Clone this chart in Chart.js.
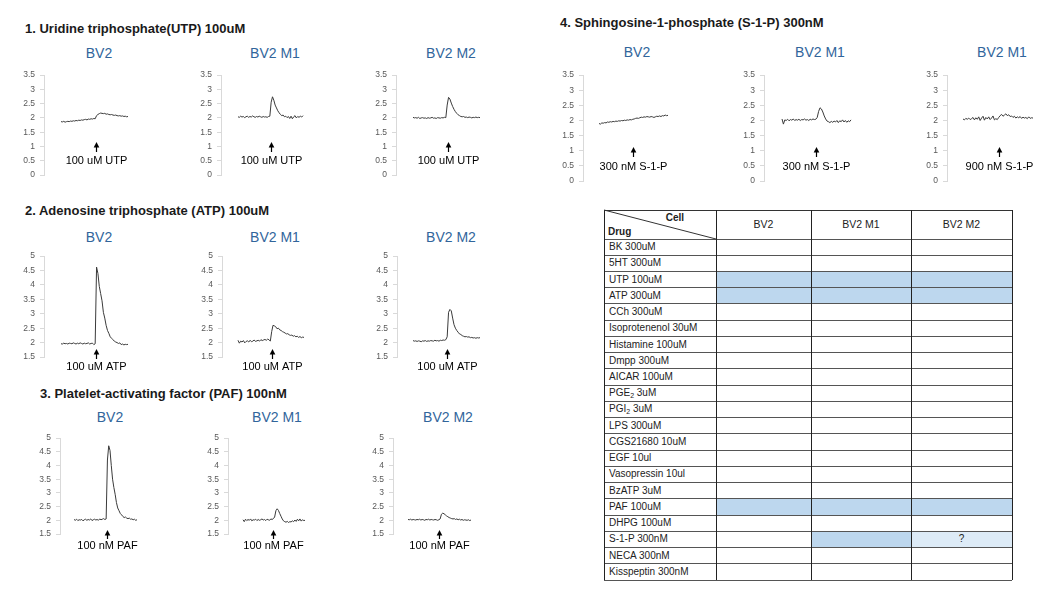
<!DOCTYPE html>
<html><head><meta charset="utf-8">
<script src="https://cdn.jsdelivr.net/npm/chart.js@4.4.1/dist/chart.umd.min.js"></script>
<style>
body{margin:0;width:1052px;height:590px;background:#fff;position:relative;overflow:hidden;font-family:"Liberation Sans",Arial,sans-serif;}
.sec{position:absolute;font-weight:bold;font-size:13px;color:#1a1a1a;white-space:nowrap;line-height:1;transform:translateY(-50%);}
.ttl{position:absolute;font-size:14px;color:#31659b;white-space:nowrap;line-height:1;transform:translate(-50%,-50%);}
canvas{position:absolute;}
.cell{position:absolute;box-sizing:border-box;font-size:10px;color:#222;line-height:1;display:flex;align-items:center;white-space:nowrap;}
.cell sub{font-size:7px;vertical-align:-2px;line-height:0;}
.ln{position:absolute;background:#333;}
</style>
</head><body>
<script>
// ---------- DATA ----------
const sectionTitles = ['1. Uridine triphosphate(UTP) 100uM','2. Adenosine triphosphate (ATP) 100uM','3. Platelet-activating factor (PAF) 100nM','4. Sphingosine-1-phosphate (S-1-P) 300nM'];
const panelTitles = [['BV2','BV2 M1','BV2 M2'],['BV2','BV2 M1','BV2 M2'],['BV2','BV2 M1','BV2 M2'],['BV2','BV2 M1','BV2 M1']];
const injectionLabels = [['100 uM UTP','100 uM UTP','100 uM UTP'],['100 uM ATP','100 uM ATP','100 uM ATP'],['100 nM PAF','100 nM PAF','100 nM PAF'],['300 nM S-1-P','300 nM S-1-P','900 nM S-1-P']];

const UTP_BV2 = [1.87,1.86,1.88,1.85,1.87,1.88,1.87,1.89,1.88,1.90, 1.89,1.91,1.90,1.92,1.91,1.93,1.92,1.94,1.95,1.93, 1.96,1.95,1.97,1.96,1.98,1.97,2.08,2.12,2.15,2.17, 2.16,2.15,2.16,2.13,2.14,2.12,2.11,2.12,2.10,2.09, 2.10,2.08,2.07,2.08,2.06,2.07,2.05,2.06,2.04,2.05];
const UTP_M1  = [2.04,2.02,2.06,2.03,2.05,2.01,2.04,2.06,2.02,2.05, 2.03,2.07,2.04,2.02,2.05,2.03,2.06,2.04,2.02,2.05, 2.03,2.04,2.02,2.05,2.06,2.55,2.74,2.62,2.45,2.35, 2.25,2.18,2.12,2.08,2.10,2.04,2.06,2.01,2.05,1.98, 2.06,1.97,2.04,2.08,2.00,2.05,2.02,2.06,2.03,2.08];
const UTP_M2  = [2.02,2.00,2.01,1.99,2.02,1.98,2.00,2.01,1.99,2.00, 1.98,2.01,1.99,2.00,2.02,1.99,2.00,1.98,2.01,2.00, 1.99,2.01,2.00,2.02,2.01,2.45,2.72,2.66,2.52,2.40, 2.30,2.22,2.16,2.11,2.08,2.05,2.04,2.05,2.02,2.03, 2.01,2.03,2.02,2.00,2.02,2.01,2.03,2.01,2.02,2.01];
const ATP_BV2 = [1.96,1.95,1.98,1.96,1.97,1.95,1.98,1.97,1.96,1.99, 1.97,1.95,1.98,1.96,1.99,1.97,1.95,1.98,1.96,1.97, 1.99,1.95,1.97,1.98,1.93,1.96,4.62,4.40,3.95,3.70, 3.45,3.05,2.85,2.60,2.42,2.32,2.20,2.15,2.10,2.05, 2.02,2.00,1.97,1.99,1.93,1.95,1.92,1.94,1.93,1.94];
const ATP_M1  = [2.08,1.98,2.05,2.02,2.07,1.99,2.04,2.06,2.02,2.08, 2.03,2.05,2.09,2.04,2.06,2.08,2.05,2.10,2.07,2.09, 2.11,2.08,2.12,2.10,2.05,2.38,2.60,2.58,2.55,2.48, 2.50,2.44,2.42,2.38,2.36,2.33,2.30,2.31,2.27,2.25, 2.26,2.22,2.24,2.20,2.22,2.18,2.21,2.17,2.19,2.18];
const ATP_M2  = [2.07,2.05,2.06,2.04,2.06,2.05,2.03,2.06,2.05,2.07, 2.04,2.06,2.05,2.07,2.06,2.05,2.08,2.06,2.07,2.05, 2.08,2.07,2.09,2.08,2.10,2.20,3.05,3.15,3.10,2.85, 2.62,2.50,2.42,2.36,2.30,2.28,2.24,2.22,2.20,2.21, 2.19,2.20,2.17,2.18,2.16,2.17,2.15,2.17,2.16,2.17];
const PAF_BV2 = [2.03,2.00,2.04,1.99,2.02,2.01,2.03,1.98,2.02,2.04, 2.00,2.03,2.01,2.05,1.99,2.02,2.04,2.01,2.03,2.00, 2.05,2.02,2.04,2.06,2.03,2.05,4.20,4.72,4.55,4.00, 3.50,3.20,2.95,2.65,2.45,2.35,2.25,2.20,2.14,2.10, 2.12,2.08,2.06,2.08,2.04,2.05,2.02,2.04,2.00,2.02];
const PAF_M1  = [2.02,1.95,2.04,1.99,2.03,2.00,2.05,1.98,2.02,2.01, 2.04,1.99,2.03,2.00,2.02,2.05,2.01,2.03,1.99,2.04, 2.02,2.00,2.05,2.03,2.06,2.12,2.35,2.42,2.36,2.25, 2.15,2.05,1.98,1.95,1.93,1.96,1.92,1.95,1.94,1.98, 1.95,2.01,1.96,2.04,1.98,2.05,1.97,2.02,1.99,2.00];
const PAF_M2  = [2.03,2.02,2.04,2.01,2.03,2.02,2.01,2.03,2.02,2.04, 2.01,2.03,2.02,2.00,2.03,2.02,2.04,2.01,2.03,2.02, 2.01,2.03,2.02,2.00,2.02,2.05,2.22,2.26,2.24,2.20, 2.16,2.13,2.10,2.08,2.06,2.05,2.06,2.03,2.05,2.02, 2.04,2.01,2.03,2.00,2.02,2.01,2.00,2.02,1.99,2.01];
const S1P_BV2 = [1.90,1.88,1.92,1.91,1.93,1.92,1.95,1.94,1.96,1.95, 1.97,1.96,1.98,1.97,1.99,1.98,2.00,1.99,2.01,2.00, 2.02,2.01,2.03,2.02,2.04,2.05,2.07,2.08,2.07,2.09, 2.11,2.10,2.12,2.11,2.13,2.12,2.11,2.13,2.12,2.10, 2.12,2.14,2.13,2.15,2.13,2.16,2.15,2.18,2.16,2.17];
const S1P_M1  = [2.05,1.88,2.02,2.00,2.04,1.99,2.03,2.01,2.05,2.00, 2.03,2.01,2.04,2.00,2.03,2.02,2.05,2.01,2.03,2.00, 2.04,2.02,2.05,2.03,2.04,2.10,2.30,2.42,2.38,2.28, 2.15,2.05,1.98,1.96,1.93,1.97,1.94,1.98,1.95,2.00, 1.93,1.99,1.96,2.02,1.95,2.00,1.94,1.99,1.96,2.02];
const S1P_M1_900 = [2.05,2.02,2.07,2.04,2.08,2.03,2.06,2.10,2.02,2.09, 2.04,2.12,2.00,2.08,2.14,2.01,2.10,2.05,2.12,2.03, 2.08,2.15,2.02,2.06,2.03,2.10,2.16,2.20,2.14,2.18, 2.22,2.16,2.19,2.13,2.15,2.10,2.14,2.08,2.12,2.09, 2.13,2.07,2.11,2.08,2.10,2.06,2.12,2.07,2.09,2.08];
const traces = [[UTP_BV2,UTP_M1,UTP_M2],[ATP_BV2,ATP_M1,ATP_M2],[PAF_BV2,PAF_M1,PAF_M2],[S1P_BV2,S1P_M1,S1P_M1_900]];
const injectionIndex = [[25.6,24.9,25.6],[25.6,25.0,24.6],[25.7,23.7,24.1],[24.1,24.1,25.2]];

// Table data
const tableCells = ['BV2','BV2 M1','BV2 M2'];
const tableDrugs = ['BK 300uM','5HT 300uM','UTP 100uM','ATP 300uM','CCh 300uM','Isoprotenenol 30uM','Histamine 100uM','Dmpp 300uM','AICAR 100uM','PGE<sub>2</sub> 3uM','PGI<sub>2</sub> 3uM','LPS 300uM','CGS21680 10uM','EGF 10ul','Vasopressin 10ul','BzATP 3uM','PAF 100uM','DHPG 100uM','S-1-P 300nM','NECA 300nM','Kisspeptin 300nM'];
// 1 = response, 2 = uncertain (?)
const respBV2 = [0,0,1,1,0,0,0,0,0,0,0,0,0,0,0,0,1,0,0,0,0];
const respM1  = [0,0,1,1,0,0,0,0,0,0,0,0,0,0,0,0,1,0,1,0,0];
const respM2  = [0,0,1,1,0,0,0,0,0,0,0,0,0,0,0,0,1,0,2,0,0];

// ---------- LAYOUT ----------
const rowGeom = [
  {min:0,  max:3.5, top:72.7, bottom:174.3, tip:-33, base:-23, lab:-14, secX:25, secY:28, ttlY:53},
  {min:1.5,max:5,   top:254,  bottom:357,   tip:-8,  base:2,   lab:10,  secX:25, secY:210, ttlY:237},
  {min:1.5,max:5,   top:436,  bottom:534,   tip:-4,  base:5,   lab:12,  secX:40, secY:393, ttlY:417},
  {min:0,  max:3.5, top:73,   bottom:181,   tip:-34, base:-24, lab:-14, secX:560, secY:22, ttlY:52}
];
const panelGeom = [
  [{ax:44,s:17,e:84,tx:99},{ax:221,s:17,e:82,tx:275},{ax:396,s:17,e:84,tx:451}],
  [{ax:44,s:17,e:84,tx:99},{ax:222,s:16,e:82,tx:275},{ax:397,s:16,e:83,tx:451}],
  [{ax:60,s:14,e:77,tx:110},{ax:228,s:15,e:77,tx:277},{ax:393,s:15,e:78,tx:448}],
  [{ax:583,s:16,e:85,tx:637},{ax:764,s:18,e:87,tx:820},{ax:947,s:16,e:86,tx:1002}]
];

const injPlugin = {
  id:'inj',
  afterDatasetsDraw(chart, args, o){
    const {ctx, chartArea, scales} = chart;
    const x = Math.round(scales.x.getPixelForValue(o.at)) + 0.5;
    const b = chartArea.bottom;
    const tip = b + o.tip, base = b + o.base, lab = b + o.lab;
    ctx.save();
    ctx.strokeStyle = '#000'; ctx.fillStyle = '#000'; ctx.lineWidth = 1.2;
    ctx.beginPath(); ctx.moveTo(x, base); ctx.lineTo(x, tip + 4); ctx.stroke();
    ctx.beginPath(); ctx.moveTo(x, tip); ctx.lineTo(x - 2.8, tip + 5.5); ctx.lineTo(x + 2.8, tip + 5.5); ctx.closePath(); ctx.fill();
    ctx.font = '11px "Liberation Sans", Arial, sans-serif';
    ctx.textAlign = 'center'; ctx.textBaseline = 'middle';
    ctx.fillText(o.text, x, lab);
    ctx.restore();
  }
};

function addDiv(cls, html, style){
  const d = document.createElement('div');
  d.className = cls; d.innerHTML = html;
  Object.assign(d.style, style);
  document.body.appendChild(d);
  return d;
}

const AXW = 40, AREAW = 100, PADT = 8, PADB = 26;
rowGeom.forEach((rg, r) => {
  addDiv('sec', sectionTitles[r], {left: rg.secX + 'px', top: rg.secY + 'px'});
  panelGeom[r].forEach((pg, c) => {
    addDiv('ttl', panelTitles[r][c], {left: pg.tx + 'px', top: rg.ttlY + 'px'});
    const vals = traces[r][c];
    const ppi = (pg.e - pg.s) / (vals.length - 1);
    const xMin = -pg.s / ppi, xMax = xMin + AREAW / ppi;
    const H = Math.round(rg.bottom - rg.top);
    const cv = document.createElement('canvas');
    cv.width = AXW + AREAW + 10; cv.height = H + PADT + PADB;
    cv.style.left = (pg.ax - AXW) + 'px';
    cv.style.top = (Math.round(rg.top) - PADT) + 'px';
    document.body.appendChild(cv);
    new Chart(cv, {
      type: 'line',
      data: { datasets: [{ data: vals.map((v, i) => ({x: i, y: v})), borderColor: '#3a3a3a', borderWidth: 1, pointRadius: 0, tension: 0, fill: false }] },
      options: {
        responsive: false, animation: false, devicePixelRatio: 1,
        layout: { padding: { top: PADT, bottom: PADB, left: 0, right: 10 } },
        plugins: { legend: {display: false}, tooltip: {enabled: false},
          inj: { at: injectionIndex[r][c], tip: rg.tip, base: rg.base, lab: rg.lab, text: injectionLabels[r][c] } },
        scales: {
          x: { type: 'linear', display: false, min: xMin, max: xMax },
          y: { min: rg.min, max: rg.max,
               afterFit: s => { s.width = AXW; },
               grid: { drawOnChartArea: false, drawTicks: true, tickLength: 4, color: '#d9d9d9' },
               border: { display: true, color: '#d9d9d9', width: 1 },
               ticks: { stepSize: 0.5, padding: 5, color: '#595959', callback: v => String(Math.round(v * 10) / 10),
                        font: { size: 8.5, family: '"Liberation Sans", Arial, sans-serif' } } }
        }
      },
      plugins: [injPlugin]
    });
  });
});

// ---------- TABLE ----------
const colX = [604, 716, 811, 911, 1012];
const tTop = 210, hdrBot = 239, tBot = 580;
const rowH = (tBot - hdrBot) / tableDrugs.length;
const resp = [respBV2, respM1, respM2];
const fills = {1: '#bdd7ee', 2: '#ddebf7'};
tableDrugs.forEach((d, i) => {
  const y = hdrBot + i * rowH;
  addDiv('cell', '<span>' + d + '</span>', {left: (colX[0] + 5) + 'px', top: y + 'px', height: rowH + 'px'});
  for (let c = 0; c < 3; c++) {
    const code = resp[c][i];
    if (code) {
      addDiv('cell', code === 2 ? '?' : '', {left: colX[c+1] + 'px', top: y + 'px', width: (colX[c+2] - colX[c+1]) + 'px', height: rowH + 'px', background: fills[code], justifyContent: 'center'});
    }
  }
});
tableCells.forEach((t, c) => {
  addDiv('cell', t, {left: colX[c+1] + 'px', top: tTop + 'px', width: (colX[c+2] - colX[c+1]) + 'px', height: (hdrBot - tTop) + 'px', justifyContent: 'center', fontSize: '10.5px'});
});
addDiv('cell', '<b>Cell</b>', {left: '650px', top: '212px', width: '34px', height: '12px', justifyContent: 'flex-end'});
addDiv('cell', '<b>Drug</b>', {left: '608px', top: '226px', height: '12px'});
// grid lines
for (let i = 0; i <= tableDrugs.length; i++) {
  const y = hdrBot + i * rowH;
  addDiv('ln', '', {left: colX[0] + 'px', top: (y - 0.5) + 'px', width: (colX[4] - colX[0]) + 'px', height: '1px', background: '#555'});
}
addDiv('ln', '', {left: colX[0] + 'px', top: (tTop - 0.5) + 'px', width: (colX[4] - colX[0]) + 'px', height: '1px'});
colX.forEach(x => addDiv('ln', '', {left: (x - 0.5) + 'px', top: tTop + 'px', width: '1.3px', height: (tBot - tTop) + 'px', background: '#222'}));
// header diagonal
const svgNS = 'http://www.w3.org/2000/svg';
const svg = document.createElementNS(svgNS, 'svg');
svg.setAttribute('width', '1052'); svg.setAttribute('height', '590');
svg.style.position = 'absolute'; svg.style.left = '0'; svg.style.top = '0'; svg.style.pointerEvents = 'none';
const dl = document.createElementNS(svgNS, 'line');
dl.setAttribute('x1', colX[0]); dl.setAttribute('y1', tTop); dl.setAttribute('x2', colX[1]); dl.setAttribute('y2', hdrBot);
dl.setAttribute('stroke', '#333'); dl.setAttribute('stroke-width', '1');
svg.appendChild(dl); document.body.appendChild(svg);
</script>
</body></html>
